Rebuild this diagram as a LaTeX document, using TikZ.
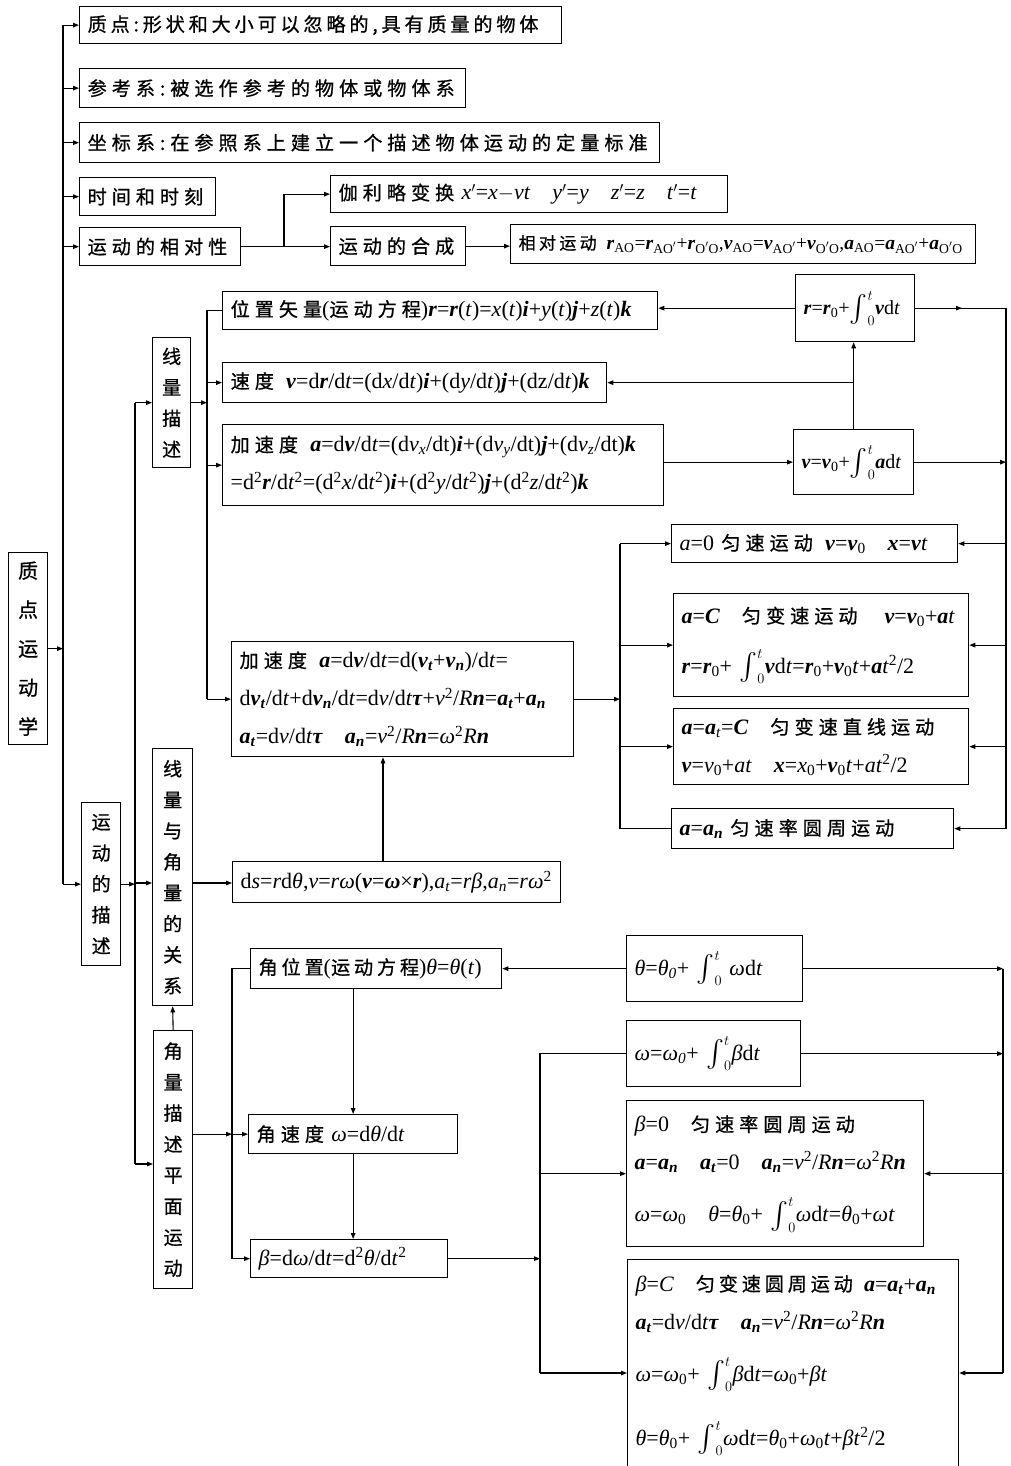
\documentclass[tikz,border=0pt]{standalone}
\usepackage{amsmath}
\usepackage{graphicx}
\usepackage{fontspec}
\setmainfont{Liberation Serif}
\newfontfamily\cjk[LetterSpace=26,FakeBold=0.8,Scale=0.87]{Noto Sans CJK SC}
\newfontfamily\cjkn[LetterSpace=20,FakeBold=0.8,Scale=0.87]{Noto Sans CJK SC}
\newfontfamily\cjkv[FakeBold=0.8]{Noto Sans CJK SC}
\usetikzlibrary{arrows.meta}
\newcommand\bi[1]{\textbf{\textit{#1}}}
\newcommand\ii[1]{\textit{#1}}
\newcommand\xsub[1]{\textsubscript{#1}}
\newcommand\xsup[1]{\textsuperscript{#1}}
\newcommand\intot{\ensuremath{\mathop{\vcenter{\hbox{\scalebox{1.3}{$\int$}}}}\nolimits_{0}^{t}}}
\newcommand\pr{\ensuremath{'}}
\begin{document}
\begin{tikzpicture}[x=1pt,y=-1pt,
  box/.style={draw, line width=1.3pt, anchor=north west, inner xsep=8pt, inner ysep=0pt, align=left, font=\fontsize{22}{38}\selectfont},
  vbox/.style={draw, line width=1.3pt, anchor=north west, inner sep=0pt, align=center, font=\fontsize{19}{31}\selectfont\cjkv},
  ln/.style={line width=1.1pt},
  arr/.style={line width=1.1pt, -{Triangle[length=6pt,width=4.5pt]}}]
\useasboundingbox (0,0) rectangle (1010,1466);
% ---------- top level ----------
\node[vbox, minimum width=39pt, minimum height=192pt, font=\fontsize{20}{39}\selectfont\cjkv] (n0) at (8,552) {质\\点\\运\\动\\学};
\node[box, text width=466pt, minimum height=37pt] (b1) at (79,6) {\mbox{\cjkn 质点:形状和大小可以忽略的,具有质量的物体}};
\node[box, text width=370pt, minimum height=39pt] (b2) at (79,68) {\mbox{\cjk 参考系:被选作参考的物体或物体系}};
\node[box, text width=564pt, minimum height=40pt] (b3) at (79,122) {\mbox{\cjk 坐标系:在参照系上建立一个描述物体运动的定量标准}};
\node[box, text width=120pt, minimum height=38pt] (b4) at (79,177) {\mbox{\cjk 时间和时刻}};
\node[box, text width=145pt, minimum height=38pt] (b5) at (79,227) {\mbox{\cjk 运动的相对性}};
\node[box, text width=381pt, minimum height=37pt] (b6) at (330,175) {\mbox{{\cjk 伽利略变换} \ii{x}\pr=\ii{x}$-$\ii{vt}\quad \ii{y}\pr=\ii{y}\quad \ii{z}\pr=\ii{z}\quad \ii{t}\pr=\ii{t}}};
\node[box, text width=119pt, minimum height=39pt] (b7) at (330,226) {\mbox{\cjk 运动的合成}};
\node[box, text width=449pt, minimum height=39pt, font=\fontsize{19.5}{38}\selectfont] (b8) at (510,224) {\mbox{{\cjkn 相对运动} \bi{r}\xsub{AO}=\bi{r}\xsub{AO\pr}+\bi{r}\xsub{O\pr O},\bi{v}\xsub{AO}=\bi{v}\xsub{AO\pr}+\bi{v}\xsub{O\pr O},\bi{a}\xsub{AO}=\bi{a}\xsub{AO\pr}+\bi{a}\xsub{O\pr O}}};
\node[vbox, minimum width=39pt, minimum height=163pt] (n1) at (81,802) {运\\动\\的\\描\\述};
% ---------- linear description ----------
\node[vbox, minimum width=38pt, minimum height=130pt] (n2) at (152,337) {线\\量\\描\\述};
\node[vbox, minimum width=40pt, minimum height=257pt] (n3) at (152,748) {线\\量\\与\\角\\量\\的\\关\\系};
\node[vbox, minimum width=39pt, minimum height=258pt] (n4) at (153,1030) {角\\量\\描\\述\\平\\面\\运\\动};
\node[box, text width=419pt, minimum height=38pt] (c1) at (222,291) {\mbox{{\cjk 位置矢量}({\cjk 运动方程})\bi{r}=\bi{r}(\ii{t})=\ii{x}(\ii{t})\bi{i}+\ii{y}(\ii{t})\bi{j}+\ii{z}(\ii{t})\bi{k}}};
\node[box, text width=368pt, minimum height=40pt] (c2) at (222,362) {\mbox{{\cjk 速度} \bi{v}=d\bi{r}/d\ii{t}=(d\ii{x}/d\ii{t})\bi{i}+(d\ii{y}/d\ii{t})\bi{j}+(dz/d\ii{t})\bi{k}}};
\node[box, text width=425pt, minimum height=81pt] (c3) at (222,424) {\mbox{{\cjk 加速度} \bi{a}=d\bi{v}/d\ii{t}=(d\ii{v}\xsub{\ii{x}}/dt)\bi{i}+(d\ii{v}\xsub{\ii{y}}/dt)\bi{j}+(d\ii{v}\xsub{\ii{z}}/dt)\bi{k}}\\
  \mbox{=d\xsup{2}\bi{r}/d\ii{t}\xsup{2}=(d\xsup{2}\ii{x}/d\ii{t}\xsup{2})\bi{i}+(d\xsup{2}\ii{y}/d\ii{t}\xsup{2})\bi{j}+(d\xsup{2}\ii{z}/d\ii{t}\xsup{2})\bi{k}}};
\node[box, text width=103pt, minimum height=67pt, font=\fontsize{20}{38}\selectfont] (c4) at (795,274) {\mbox{\bi{r}=\bi{r}\xsub{0}+\intot\bi{v}d\ii{t}}};
\node[box, text width=104pt, minimum height=65pt, font=\fontsize{20}{38}\selectfont] (c5) at (793,429) {\mbox{\bi{v}=\bi{v}\xsub{0}+\intot\bi{a}d\ii{t}}};
\node[box, text width=326pt, minimum height=115pt] (c6) at (231,641) {\mbox{{\cjk 加速度} \bi{a}=d\bi{v}/d\ii{t}=d(\bi{v}\xsub{\bi{t}}+\bi{v}\xsub{\bi{n}})/d\ii{t}=}\\
  \mbox{d\bi{v}\xsub{\bi{t}}/d\ii{t}+d\bi{v}\xsub{\bi{n}}/d\ii{t}=d\ii{v}/d\ii{t}\bi{τ}+\ii{v}\xsup{2}/\ii{R}\bi{n}=\bi{a}\xsub{\bi{t}}+\bi{a}\xsub{\bi{n}}}\\
  \mbox{\bi{a}\xsub{\bi{t}}=d\ii{v}/d\ii{t}\bi{τ}\quad \bi{a}\xsub{\bi{n}}=\ii{v}\xsup{2}/\ii{R}\bi{n}=\ii{ω}\xsup{2}\ii{R}\bi{n}}};
\node[box, text width=312pt, minimum height=41pt] (c7) at (232,861) {\mbox{d\ii{s}=\ii{r}d\ii{θ},\ii{v}=\ii{rω}(\bi{v}=\bi{ω}×\bi{r}),\ii{a}\xsub{\ii{t}}=\ii{rβ},\ii{a}\xsub{\ii{n}}=\ii{rω}\xsup{2}}};
\node[box, text width=270pt, minimum height=38pt] (d1) at (671,524) {\mbox{\ii{a}=0 {\cjk 匀速运动} \bi{v}=\bi{v}\xsub{0}\quad \bi{x}=\bi{v}\ii{t}}};
\node[box, text width=279pt, minimum height=103pt] (d2) at (673,593) {\mbox{\bi{a}=\bi{C}\quad{\cjk 匀变速运动}\quad\bi{v}=\bi{v}\xsub{0}+\bi{a}\ii{t}}\\[12pt]
  \mbox{\bi{r}=\bi{r}\xsub{0}+ \intot\bi{v}d\ii{t}=\bi{r}\xsub{0}+\bi{v}\xsub{0}\ii{t}+\bi{a}\ii{t}\xsup{2}/2}};
\node[box, text width=279pt, minimum height=76pt] (d3) at (673,708) {\mbox{\bi{a}=\bi{a}\xsub{\ii{t}}=\bi{C}\quad{\cjk 匀变速直线运动}}\\
  \mbox{\bi{v}=\ii{v}\xsub{0}+\ii{at}\quad \bi{x}=\ii{x}\xsub{0}+\bi{v}\xsub{0}\ii{t}+\ii{at}\xsup{2}/2}};
\node[box, text width=266pt, minimum height=40pt] (d4) at (671,808) {\mbox{\bi{a}=\bi{a}\xsub{\bi{n}} {\cjk 匀速率圆周运动}}};
% ---------- angular description ----------
\node[box, text width=235pt, minimum height=40pt] (e1) at (250,948) {\mbox{{\cjkn 角位置}({\cjkn 运动方程})\ii{θ}=\ii{θ}(\ii{t})}};
\node[box, text width=193pt, minimum height=39pt] (e2) at (248,1114) {\mbox{{\cjk 角速度} \ii{ω}=d\ii{θ}/d\ii{t}}};
\node[box, text width=181pt, minimum height=38pt] (e3) at (250,1239) {\mbox{\ii{β}=d\ii{ω}/d\ii{t}=d\xsup{2}\ii{θ}/d\ii{t}\xsup{2}}};
\node[box, text width=160pt, minimum height=66pt] (f1) at (626,935) {\mbox{\ii{θ}=\ii{θ}\xsub{\ii{0}}+ \intot~\ii{ω}d\ii{t}}};
\node[box, text width=158pt, minimum height=66pt] (f2) at (626,1020) {\mbox{\ii{ω}=\ii{ω}\xsub{\ii{0}}+ \intot\ii{β}d\ii{t}}};
\node[box, text width=281pt, minimum height=146pt] (f3) at (626,1100) {\mbox{\ii{β}=0\quad{\cjk 匀速率圆周运动}}\\
  \mbox{\bi{a}=\bi{a}\xsub{\bi{n}}\quad \bi{a}\xsub{\bi{t}}=0\quad \bi{a}\xsub{\bi{n}}=\ii{v}\xsup{2}/\ii{R}\bi{n}=\ii{ω}\xsup{2}\ii{R}\bi{n}}\\[14pt]
  \mbox{\ii{ω}=\ii{ω}\xsub{0}\quad \ii{θ}=\ii{θ}\xsub{0}+ \intot\ii{ω}d\ii{t}=\ii{θ}\xsub{0}+\ii{ωt}}};
\node[box, text width=315pt, minimum height=211pt] (f4) at (627,1259) {\mbox{\ii{β}=\ii{C}\quad{\cjkn 匀变速圆周运动} \bi{a}=\bi{a}\xsub{\bi{t}}+\bi{a}\xsub{\bi{n}}}\\
  \mbox{\bi{a}\xsub{\bi{t}}=d\ii{v}/d\ii{t}\bi{τ}\quad \bi{a}\xsub{\bi{n}}=\ii{v}\xsup{2}/\ii{R}\bi{n}=\ii{ω}\xsup{2}\ii{R}\bi{n}}\\[14pt]
  \mbox{\ii{ω}=\ii{ω}\xsub{0}+ \intot\ii{β}d\ii{t}=\ii{ω}\xsub{0}+\ii{βt}}\\[26pt]
  \mbox{\ii{θ}=\ii{θ}\xsub{0}+ \intot\ii{ω}d\ii{t}=\ii{θ}\xsub{0}+\ii{ω}\xsub{0}\ii{t}+\ii{βt}\xsup{2}/2}};
% ---------- coordinates of trunk lines ----------
\coordinate (tA) at (63,0);
\coordinate (tB) at (284,0);
\coordinate (tC) at (135,0);
\coordinate (tD) at (207,0);
\coordinate (tE) at (1006,0);
\coordinate (tF) at (620,0);
\coordinate (tG) at (232,0);
\coordinate (tH) at (540,0);
\coordinate (tI) at (1003,0);
\coordinate (cx) at (383,0);
\coordinate (yN3) at (0,883);
\coordinate (yN4) at (0,1164);
\coordinate (yF4) at (0,1373);
\coordinate (mE) at (962,0);
% ---------- connectors: top level ----------
\draw[ln] (tA|-b1.west) -- (tA|-n1.east);
\draw[arr] (n0.east) -- (tA|-n0.east);
\foreach \b in {b1,b2,b3,b4,b5,n1} \draw[arr] (tA|-\b.west) -- (\b.west);
\draw[ln] (b5.east) -- (tB|-b5.east) -- (tB|-b6.west);
\draw[arr] (tB|-b6.west) -- (b6.west);
\draw[arr] (tB|-b5.east) -- (b7.west|-b5.east);
\draw[arr] (b7.east) -- (b7.east-|b8.west);
% ---------- connectors: description ----------
\draw[arr] (n1.east) -- (tC|-n1.east);
\draw[ln] (tC|-n2.west) -- (tC|-yN4);
\draw[arr] (tC|-n2.west) -- (n2.west);
\draw[arr] (tC|-yN3) -- (n3.west|-yN3);
\draw[arr] (tC|-yN4) -- (n4.west|-yN4);
\draw[arr] (n4.north) -- (n3.south);
\draw[arr] (n3.east|-yN3) -- (c7.west|-yN3);
% linear description
\draw[arr] (n2.east) -- (tD|-n2.east);
\draw[ln] (c1.west) -- (tD|-c1.west) -- (tD|-c6.west);
\draw[arr] (tD|-c2.west) -- (c2.west);
\draw[arr] (tD|-c3.west) -- (c3.west);
\draw[arr] (tD|-c6.west) -- (c6.west);
\draw[arr] (c4.west) -- (c4.west-|c1.east);
\draw[arr] (c5.north) -- (c5.north|-c4.south);
\draw[arr] (c5.north|-c2.east) -- (c2.east);
\draw[arr] (c3.east|-c5.west) -- (c5.west);
\draw[ln] (c4.east) -- (tE|-c4.east) -- (tE|-d4.east);
\draw[arr] (c4.east) -- (mE|-c4.east);
\draw[arr] (c5.east) -- (tE|-c5.east);
\foreach \d in {d1,d2,d3,d4} \draw[arr] (tE|-\d.east) -- (\d.east);
\draw[arr] (c6.east) -- (tF|-c6.east);
\draw[ln] (tF|-d1.west) -- (tF|-d4.west) -- (d4.west);
\foreach \d in {d1,d2,d3} \draw[arr] (tF|-\d.west) -- (\d.west);
\draw[arr] (cx|-c7.north) -- (cx|-c6.south);
% angular description
\draw[arr] (n4.east|-e2.west) -- (tG|-e2.west);
\draw[ln] (e1.west) -- (tG|-e1.west) -- (tG|-e3.west);
\draw[arr] (tG|-e2.west) -- (e2.west);
\draw[arr] (tG|-e3.west) -- (e3.west);
\draw[arr] (e2.north|-e1.south) -- (e2.north);
\draw[arr] (e2.south) -- (e2.south|-e3.north);
\draw[arr] (e3.east) -- (tH|-e3.east);
\draw[ln] (f2.west) -- (tH|-f2.west) -- (tH|-yF4);
\draw[arr] (tH|-f3.west) -- (f3.west);
\draw[arr] (tH|-yF4) -- (f4.west|-yF4);
\draw[arr] (f1.west) -- (e1.east|-f1.west);
\draw[ln] (tI|-f1.east) -- (tI|-yF4);
\draw[arr] (f1.east) -- (tI|-f1.east);
\draw[arr] (f2.east) -- (tI|-f2.east);
\draw[arr] (tI|-f3.east) -- (f3.east);
\draw[arr] (tI|-yF4) -- (f4.east|-yF4);
\end{tikzpicture}
\end{document}
